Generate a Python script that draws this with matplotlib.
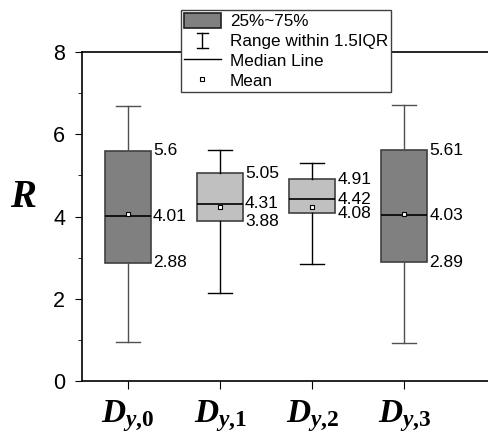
import matplotlib
matplotlib.use('Agg')
import matplotlib.pyplot as plt
from matplotlib.patches import Patch
from matplotlib.lines import Line2D
from matplotlib.legend_handler import HandlerBase

# values
groups = ['$D_{y{,}0}$', '$D_{y{,}1}$', '$D_{y{,}2}$', '$D_{y{,}3}$']
q1 = [2.88, 3.88, 4.08, 2.89]
median = [4.01, 4.31, 4.42, 4.03]
q3 = [5.6, 5.05, 4.91, 5.61]
whis_lo = [0.96, 2.13, 2.85, 0.92]
whis_hi = [6.68, 5.62, 5.29, 6.72]
means = [4.07, 4.22, 4.23, 4.07]
box_colors = ['#808080', '#c0c0c0', '#c0c0c0', '#808080']
whisker_colors = ['#505050', '#000000', '#000000', '#505050']

plt.rcParams['font.family'] = ['Liberation Sans', 'DejaVu Sans']
plt.rcParams['mathtext.fontset'] = 'custom'
plt.rcParams['mathtext.it'] = 'Liberation Serif:italic:bold'
plt.rcParams['mathtext.rm'] = 'Liberation Serif:bold'


class RangeHandler(HandlerBase):
    def create_artists(self, legend, orig_handle, xdescent, ydescent,
                       width, height, fontsize, trans):
        cx = width / 2 - xdescent
        lo, hi = -ydescent, height - ydescent
        cap = width * 0.15
        arts = [Line2D([cx, cx], [lo, hi], color='black', lw=1),
                Line2D([cx - cap, cx + cap], [lo, lo], color='black', lw=1),
                Line2D([cx - cap, cx + cap], [hi, hi], color='black', lw=1)]
        for a in arts:
            a.set_transform(trans)
        return arts


def main():
    fig = plt.figure(figsize=(4.88, 4.41), dpi=100)
    ax = fig.add_axes([0.168, 0.136, 0.84, 0.746])

    positions = list(range(1, len(groups) + 1))
    stats = []
    for i in range(len(groups)):
        stats.append(dict(med=median[i], q1=q1[i], q3=q3[i],
                          whislo=whis_lo[i], whishi=whis_hi[i],
                          mean=means[i], fliers=[]))

    bp = ax.bxp(stats, positions=positions, widths=0.5, patch_artist=True,
                showmeans=True, showfliers=False,
                meanprops=dict(marker='s', markersize=3.5,
                               markerfacecolor='white',
                               markeredgecolor='black', markeredgewidth=0.8),
                medianprops=dict(color='black', lw=1.2),
                capwidths=0.26)
    for i, box in enumerate(bp['boxes']):
        box.set_facecolor(box_colors[i])
        box.set_edgecolor('#404040')
        box.set_linewidth(1.2)
        for j in (2 * i, 2 * i + 1):
            bp['whiskers'][j].set_color(whisker_colors[i])
            bp['caps'][j].set_color(whisker_colors[i])

    for i, p in enumerate(positions):
        for v in (q3[i], median[i], q1[i]):
            ax.text(p + 0.27, v, f'{v:g}', ha='left', va='center',
                    fontsize=12.5)

    ax.set_xlim(0.5, 4.95)
    ax.set_ylim(0, 8)
    ax.set_yticks([0, 2, 4, 6, 8])
    ax.set_yticks([1, 3, 5, 7], minor=True)
    ax.set_xticks(positions)
    ax.set_xticklabels(groups, fontsize=24)
    ax.tick_params(axis='y', labelsize=15.5, direction='out', length=5, pad=7)
    ax.tick_params(axis='y', which='minor', length=3)
    ax.tick_params(axis='x', direction='out', length=6, pad=6)
    ax.spines['right'].set_visible(False)
    for s in ('left', 'top', 'bottom'):
        ax.spines[s].set_linewidth(1.2)

    fig.text(0.048, 0.553, 'R', fontsize=28, family='Liberation Serif',
             style='italic', weight='bold', ha='center', va='center')

    handles = [Patch(facecolor='#808080', edgecolor='#202020', lw=1.2),
               object(),
               Line2D([], [], color='black', lw=1),
               Line2D([], [], ls='none', marker='s', markersize=3.5,
                      markerfacecolor='white', markeredgecolor='black',
                      markeredgewidth=0.8)]
    labels = ['25%~75%', 'Range within 1.5IQR', 'Median Line', 'Mean']
    leg = fig.legend(handles, labels,
                     handler_map={object: RangeHandler()},
                     loc='upper left', bbox_to_anchor=(0.371, 0.977),
                     fontsize=12.3, frameon=True, fancybox=False,
                     edgecolor='#404040', framealpha=1,
                     borderpad=0.15, labelspacing=0.2, handlelength=2.2,
                     handleheight=1.0, handletextpad=0.5, borderaxespad=0)
    leg.get_frame().set_linewidth(1)

    plt.savefig('out.png', dpi=100)


if __name__ == "__main__":
    main()
